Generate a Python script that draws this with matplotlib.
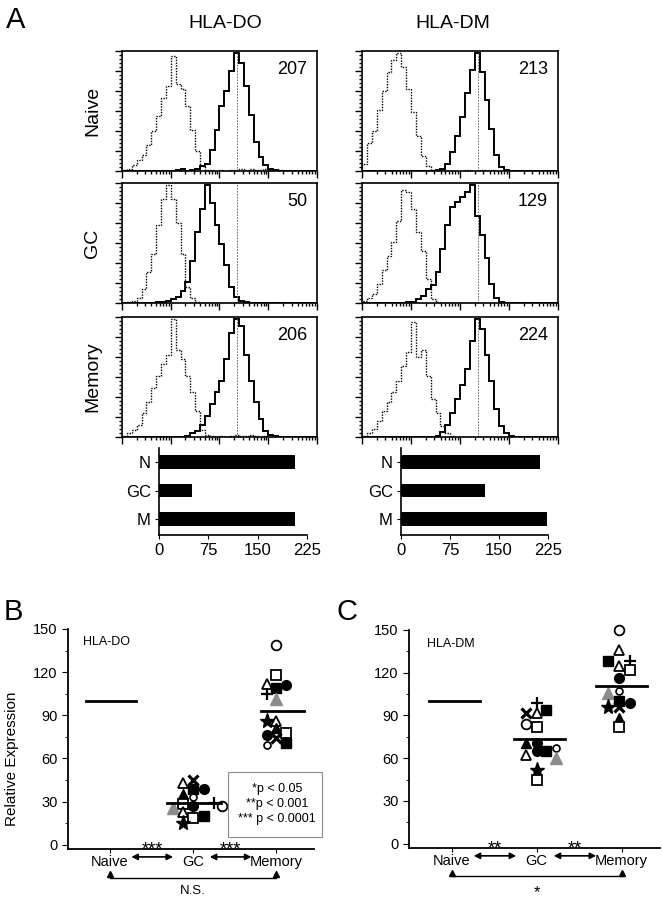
import numpy as np
import matplotlib
matplotlib.use('Agg')
import matplotlib.pyplot as plt
from matplotlib.ticker import LogLocator, MultipleLocator, NullFormatter
from matplotlib.patches import Rectangle

plt.rcParams['font.family'] = ['Liberation Sans', 'DejaVu Sans']

W, H = 662, 900

# ---- panel A: flow histograms (counts per 0.1-decade channel, 10^0..10^4) ----
do_naive_iso = [1, 2, 5, 9, 14, 22, 34, 47, 62, 72, 98, 74, 70, 55, 35, 17, 4, 1, 1, 0,
                1, 0, 1, 1, 2, 1, 2, 1, 1, 2, 1, 0, 1, 0, 0, 0, 0, 0, 0, 0]
do_naive_pos = [0, 0, 0, 0, 0, 0, 0, 0, 0, 0, 0, 1, 2, 0, 1, 2, 4, 6, 18, 35,
                55, 68, 85, 100, 92, 72, 48, 25, 12, 5, 2, 1, 0, 0, 0, 0, 0, 0, 0, 0]
do_gc_iso = [1, 1, 2, 4, 12, 26, 42, 66, 88, 100, 88, 68, 42, 14, 4, 1, 0, 0, 0, 0,
             0, 0, 0, 0, 0, 0, 0, 0, 0, 0, 0, 0, 0, 0, 0, 0, 0, 0, 0, 0]
do_gc_pos = [0, 0, 0, 0, 0, 0, 0, 1, 1, 2, 3, 5, 10, 18, 36, 60, 80, 100, 85, 66,
             50, 32, 14, 5, 2, 1, 0, 0, 0, 0, 0, 0, 0, 0, 0, 0, 0, 0, 0, 0]
do_mem_iso = [1, 3, 6, 10, 20, 30, 42, 52, 62, 70, 100, 74, 66, 52, 38, 22, 6, 2, 1, 0,
              1, 0, 1, 2, 1, 1, 2, 1, 0, 1, 0, 1, 0, 0, 0, 0, 0, 0, 0, 0]
do_mem_pos = [0, 0, 0, 0, 0, 0, 0, 0, 0, 0, 0, 0, 0, 1, 3, 5, 10, 18, 28, 38,
              48, 66, 88, 100, 94, 70, 48, 30, 15, 5, 2, 1, 0, 0, 0, 0, 0, 0, 0, 0]
dm_naive_iso = [6, 24, 34, 52, 68, 84, 94, 100, 88, 70, 50, 30, 13, 4, 1, 1, 1, 0, 0, 0,
                0, 1, 0, 0, 1, 0, 1, 0, 0, 0, 0, 0, 0, 0, 0, 0, 0, 0, 0, 0]
dm_naive_pos = [0, 0, 0, 0, 0, 0, 0, 0, 0, 0, 0, 0, 0, 0, 0, 1, 2, 6, 16, 30,
                46, 66, 86, 100, 84, 60, 36, 14, 3, 1, 0, 0, 0, 0, 0, 0, 0, 0, 0, 0]
dm_gc_iso = [2, 4, 8, 16, 28, 40, 52, 70, 96, 94, 80, 60, 44, 20, 3, 1, 0, 0, 0, 0,
             0, 0, 0, 0, 0, 0, 0, 0, 0, 0, 0, 0, 0, 0, 0, 0, 0, 0, 0, 0]
dm_gc_pos = [0, 0, 0, 0, 0, 0, 0, 0, 0, 1, 1, 3, 6, 12, 15, 26, 46, 66, 82, 86,
             90, 94, 100, 74, 58, 38, 16, 4, 1, 0, 0, 0, 0, 0, 0, 0, 0, 0, 0, 0]
dm_mem_iso = [1, 3, 7, 14, 22, 30, 38, 48, 60, 72, 98, 68, 74, 52, 32, 20, 9, 3, 1, 0,
              0, 0, 0, 0, 0, 0, 0, 0, 0, 0, 0, 0, 0, 0, 0, 0, 0, 0, 0, 0]
dm_mem_pos = [0, 0, 0, 0, 0, 0, 0, 0, 0, 0, 0, 0, 0, 0, 0, 1, 4, 10, 20, 32,
              44, 58, 82, 100, 92, 70, 48, 24, 9, 3, 1, 0, 0, 0, 0, 0, 0, 0, 0, 0]
ref_channel = 234

row_names = ['Naive', 'GC', 'Memory']
bar_labels = ['N', 'GC', 'M']
do_mfi = [207, 50, 206]
dm_mfi = [213, 129, 224]

# ---- panels B, C: relative expression ----
groups = ['Naive', 'GC', 'Memory']
do_naive_level = 100
do_gc_vals = [43, 45, 39, 39, 35, 33, 28, 25.5, 23, 27, 29, 27, 18.5, 20, 15]
do_gc_kind = ['ot', 'x', 'fs', 'fc', 'ft', 'sc', 'os', 'gt', 'ot', 'fc', 'pl', 'oc', 'os', 'fs', 'st']
do_gc_dx = [-0.12, 0, 0, 0.13, -0.12, 0, -0.12, -0.24, -0.12, 0, 0.25, 0.35, 0, 0.13, -0.12]
do_gc_mean = 29
do_mem_vals = [139, 118, 112, 109, 111, 105, 101, 86, 86, 81, 76, 78, 74, 71, 69]
do_mem_kind = ['oc', 'os', 'ot', 'fs', 'fc', 'pl', 'gt', 'st', 'ot', 'ft', 'fc', 'os', 'x', 'fs', 'sc']
do_mem_dx = [0, 0, -0.11, 0, 0.12, -0.11, 0, -0.11, 0, 0, -0.11, 0.12, 0, 0.12, -0.11]
do_mem_mean = 93

dm_naive_level = 100
dm_gc_vals = [99, 92, 92, 94, 84, 82, 71, 71, 65, 65, 67, 60, 62, 52, 45]
dm_gc_kind = ['pl', 'x', 'ot', 'fs', 'oc', 'os', 'ft', 'fc', 'fc', 'fs', 'sc', 'gt', 'ot', 'st', 'os']
dm_gc_dx = [0, -0.13, 0, 0.11, -0.13, 0, -0.13, 0, 0, 0.11, 0.23, 0.23, -0.13, 0, 0]
dm_gc_mean = 73.5
dm_mem_vals = [150, 136, 128, 125, 128, 122, 116, 105.5, 107, 100, 96, 96, 98.5, 88, 82]
dm_mem_kind = ['oc', 'ot', 'fs', 'ot', 'pl', 'os', 'fc', 'gt', 'sc', 'fs', 'st', 'x', 'fc', 'ft', 'os']
dm_mem_dx = [-0.03, -0.03, -0.16, -0.03, 0.1, 0.1, -0.03, -0.16, -0.03, -0.03, -0.16, -0.03, 0.1, -0.03, -0.03]
dm_mem_mean = 110.5

point_styles = {
    'oc': dict(marker='o', ms=7, mfc='white', mec='black', mew=1.3),
    'sc': dict(marker='o', ms=5, mfc='white', mec='black', mew=1.2),
    'fc': dict(marker='o', ms=7, mfc='black', mec='black'),
    'os': dict(marker='s', ms=6.5, mfc='white', mec='black', mew=1.3),
    'fs': dict(marker='s', ms=6.5, mfc='black', mec='black'),
    'ot': dict(marker='^', ms=7.5, mfc='white', mec='black', mew=1.3),
    'ft': dict(marker='^', ms=7.5, mfc='black', mec='black'),
    'gt': dict(marker='^', ms=8.5, mfc='#8c8c8c', mec='#8c8c8c'),
    'st': dict(marker='*', ms=11, mfc='black', mec='black'),
    'x': dict(marker='x', ms=7, mec='black', mew=2.3),
    'pl': dict(marker='+', ms=8, mec='black', mew=1.6),
}

fig = plt.figure(figsize=(6.62, 9.0), dpi=100)


def rect(x0, y0, x1, y1):
    return [x0 / W, 1 - y1 / H, (x1 - x0) / W, (y1 - y0) / H]


def ftext(x, y, s, **kw):
    fig.text(x / W, 1 - y / H, s, **kw)


edges = np.logspace(0, 4, 41)
hist_rows = [(51, 171), (183, 303), (317, 437)]
hist_cols = [(122, 317), (362, 558)]
hist_data = [[(do_naive_iso, do_naive_pos), (do_gc_iso, do_gc_pos), (do_mem_iso, do_mem_pos)],
             [(dm_naive_iso, dm_naive_pos), (dm_gc_iso, dm_gc_pos), (dm_mem_iso, dm_mem_pos)]]
mfis = [do_mfi, dm_mfi]

for c, (x0, x1) in enumerate(hist_cols):
    for r, (y0, y1) in enumerate(hist_rows):
        ax = fig.add_axes(rect(x0, y0, x1, y1))
        iso, pos = hist_data[c][r]
        ax.stairs(iso, edges, color='black', lw=1.0, linestyle=(0, (1, 1)))
        ax.stairs(pos, edges, color='black', lw=1.4)
        ax.axvline(ref_channel, color='0.35', lw=0.6, ls=(0, (2, 1.5)))
        ax.set_xscale('log')
        ax.set_xlim(1, 1e4)
        ax.set_ylim(0, 102)
        ax.xaxis.set_major_locator(LogLocator(base=10, numticks=10))
        ax.xaxis.set_minor_locator(LogLocator(base=10, subs=np.arange(2, 10), numticks=10))
        ax.xaxis.set_minor_formatter(NullFormatter())
        ax.yaxis.set_major_locator(MultipleLocator(17))
        ax.yaxis.set_minor_locator(MultipleLocator(3.4))
        ax.tick_params(which='both', direction='out', labelbottom=False, labelleft=False, width=1)
        ax.tick_params(which='major', length=5)
        ax.tick_params(which='minor', length=2.5)
        for s in ax.spines.values():
            s.set_linewidth(1.2)
        ax.text(0.95, 0.85, str(mfis[c][r]), transform=ax.transAxes, ha='right', va='center', fontsize=13)
        if c == 0:
            ftext(93, (y0 + y1) / 2, row_names[r], rotation=90, ha='center', va='center', fontsize=14)

ftext(225, 23, 'HLA-DO', ha='center', va='center', fontsize=14)
ftext(453, 23, 'HLA-DM', ha='center', va='center', fontsize=14)
ftext(6, 20, 'A', ha='left', va='center', fontsize=21)

# bar summaries
for (x0, x1), vals in zip([(159, 307), (401, 548)], mfis):
    ax = fig.add_axes(rect(x0, 448, x1, 535))
    ax.barh(range(3), vals, height=0.48, color='black')
    ax.set_xlim(0, 225)
    ax.set_ylim(2.56, -0.49)
    ax.set_yticks(range(3))
    ax.set_yticklabels(bar_labels)
    ax.set_xticks([0, 75, 150, 225])
    ax.spines['top'].set_visible(False)
    ax.spines['right'].set_visible(False)
    ax.spines['left'].set_linewidth(1.2)
    ax.spines['bottom'].set_linewidth(1.2)
    ax.tick_params(direction='out', length=3, labelsize=12, pad=3)


def scatter_panel(ax, naive_level, gc, mem, stars, bottom_txt, naive_span):
    ax.plot([naive_span[0], naive_span[1]], [naive_level, naive_level], color='black', lw=2)
    for (vals, kinds, dx, mean, span), cx in zip([gc, mem], [1, 2]):
        for v, k, d in zip(vals, kinds, dx):
            ax.plot([cx + d], [v], linestyle='none', clip_on=False, **point_styles[k])
        ax.plot([cx + span[0], cx + span[1]], [mean, mean], color='black', lw=2)
    ax.set_ylim(-3, 150)
    ax.set_xlim(-0.5, 2.45)
    ax.set_yticks(range(0, 151, 30))
    ax.yaxis.set_minor_locator(MultipleLocator(15))
    ax.set_xticks([0, 1, 2])
    ax.set_xticklabels(groups)
    ax.spines['top'].set_visible(False)
    ax.spines['right'].set_visible(False)
    ax.spines['left'].set_linewidth(1.3)
    ax.spines['bottom'].set_linewidth(1.3)
    ax.tick_params(axis='y', which='major', direction='out', length=4, labelsize=10.5)
    ax.tick_params(axis='y', which='minor', direction='out', length=2.5)
    ax.tick_params(axis='x', direction='out', length=3, labelsize=10.5, pad=1)
    arrows = [(0.26, 0.76), (1.2, 1.7)]
    for a, b in arrows:
        ax.annotate('', xy=(b, -8.5), xytext=(a, -8.5),
                    arrowprops=dict(arrowstyle='<|-|>', color='black', lw=1.2,
                                    mutation_scale=9, shrinkA=0, shrinkB=0),
                    annotation_clip=False)
        ax.text((a + b) / 2, -3.5, stars, ha='center', va='center', fontsize=13)
    ax.plot([0, 2], [-23, -23], color='black', lw=1, clip_on=False)
    ax.plot([0, 2], [-20.5, -20.5], marker='^', ls='none', ms=5, color='black', clip_on=False)
    ax.text(1, -32.5 if bottom_txt != '*' else -34, bottom_txt, ha='center', va='center',
            fontsize=9.5 if bottom_txt != '*' else 12)


axB = fig.add_axes(rect(68, 629, 314, 849))
scatter_panel(axB, do_naive_level,
              (do_gc_vals, do_gc_kind, do_gc_dx, do_gc_mean, (-0.31, 0.33)),
              (do_mem_vals, do_mem_kind, do_mem_dx, do_mem_mean, (-0.18, 0.33)),
              '***', 'N.S.', (-0.28, 0.31))
axB.set_ylabel('Relative Expression', fontsize=11)
axB.yaxis.set_label_coords(-0.2, 0.41)
axB.text(0.06, 0.94, 'HLA-DO', transform=axB.transAxes, fontsize=9, va='center')

axC = fig.add_axes(rect(409, 630, 660, 848))
scatter_panel(axC, dm_naive_level,
              (dm_gc_vals, dm_gc_kind, dm_gc_dx, dm_gc_mean, (-0.27, 0.33)),
              (dm_mem_vals, dm_mem_kind, dm_mem_dx, dm_mem_mean, (-0.3, 0.3)),
              '**', '*', (-0.26, 0.33))
axC.text(0.07, 0.935, 'HLA-DM', transform=axC.transAxes, fontsize=9, va='center')

fig.patches.append(Rectangle((228 / W, 1 - 837 / H), 94 / W, 65 / H, transform=fig.transFigure,
                             facecolor='white', edgecolor='0.55', lw=0.8))
ftext(277, 804, '*p < 0.05\n**p < 0.001\n*** p < 0.0001', ha='center', va='center',
      fontsize=9, multialignment='center', linespacing=1.3)

ftext(4, 612, 'B', ha='left', va='center', fontsize=21)
ftext(337, 612, 'C', ha='left', va='center', fontsize=21)

fig.savefig('out.png', dpi=100)
